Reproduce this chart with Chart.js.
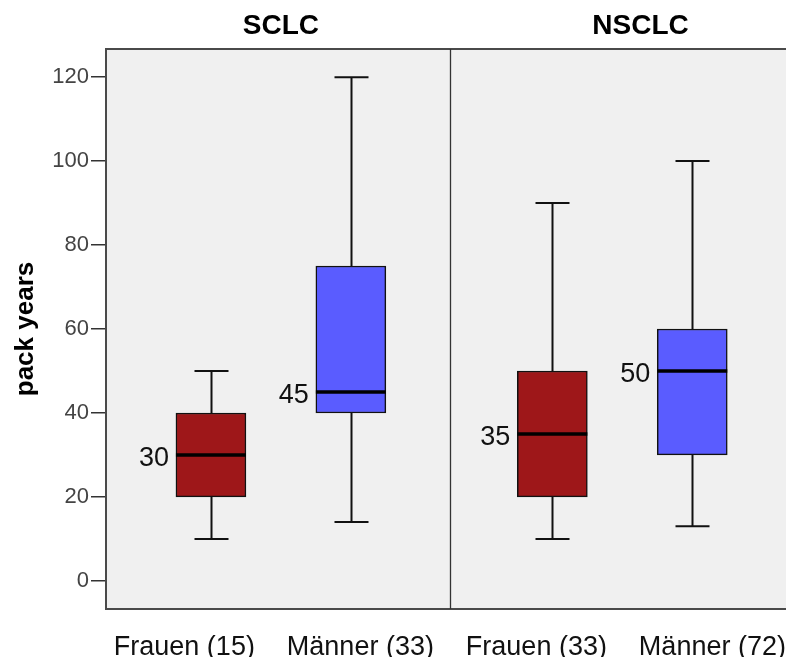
<!DOCTYPE html>
<html>
<head>
<meta charset="utf-8">
<script src="https://cdn.jsdelivr.net/npm/chart.js@4"></script>
<style>
  html, body { margin: 0; padding: 0; background: #fff; overflow: hidden; }
  #wrap { width: 786px; height: 657px; }
</style>
</head>
<body>
<div id="wrap"><canvas id="boxChart"></canvas></div>
<script>
"use strict";

// Data
const panels = ["SCLC", "NSCLC"];
const groups = ["Frauen (15)", "Männer (33)", "Frauen (33)", "Männer (72)"];
const groupPanel = [0, 0, 1, 1];
const minValues = [10, 14, 10, 13];
const q1Values = [20, 40, 20, 30];
const medianValues = [30, 45, 35, 50];
const q3Values = [40, 75, 50, 60];
const maxValues = [50, 120, 90, 100];
const yTicks = [0, 20, 40, 60, 80, 100, 120];
const boxColors = ["#9e1719", "#5a5cff", "#9e1719", "#5a5cff"];

// x layout (scale units)
const xMin = 0.25, xMax = 5.11;
const panelGap = 0.44;
const dividerX = 2.71;
const boxPositions = groups.map((g, i) => i + 1 + groupPanel[i] * panelGap);
const labelStart = 0.81, labelStep = 1.258;
const titleX = [1.5, 4.07];

const BOX_W = 70;
const CAP_W = 34;
const FONT = "'Liberation Sans', Arial, sans-serif";

// background of the plot area
let plotBackground = {
  id: "plotBackground",
  beforeDraw(chart) {
    let { ctx, chartArea: a } = chart;
    ctx.save();
    ctx.fillStyle = "#f0f0f0";
    ctx.fillRect(a.left, a.top, a.right - a.left, a.bottom - a.top);
    ctx.restore();
  }
};

// whiskers, medians, labels, frame, panel titles
let boxExtras = {
  id: "boxExtras",
  beforeDatasetsDraw(chart) {
    let { ctx, scales: { x, y } } = chart;
    ctx.save();
    ctx.strokeStyle = "#111";
    ctx.lineWidth = 2;
    groups.forEach((g, i) => {
      let cx = Math.round(x.getPixelForValue(boxPositions[i])) + 0.5;
      let pMin = y.getPixelForValue(minValues[i]);
      let pMax = y.getPixelForValue(maxValues[i]);
      ctx.beginPath();
      ctx.moveTo(cx, y.getPixelForValue(q3Values[i]));
      ctx.lineTo(cx, pMax);
      ctx.moveTo(cx, y.getPixelForValue(q1Values[i]));
      ctx.lineTo(cx, pMin);
      ctx.moveTo(cx - CAP_W / 2, pMax);
      ctx.lineTo(cx + CAP_W / 2, pMax);
      ctx.moveTo(cx - CAP_W / 2, pMin);
      ctx.lineTo(cx + CAP_W / 2, pMin);
      ctx.stroke();
    });
    ctx.restore();
  },
  afterDatasetsDraw(chart) {
    let { ctx, chartArea: a, scales: { x, y } } = chart;
    ctx.save();
    // medians + labels
    groups.forEach((g, i) => {
      let cx = x.getPixelForValue(boxPositions[i]);
      let py = y.getPixelForValue(medianValues[i]);
      ctx.strokeStyle = "#000";
      ctx.lineWidth = 3.5;
      ctx.beginPath();
      ctx.moveTo(cx - BOX_W / 2, py);
      ctx.lineTo(cx + BOX_W / 2, py);
      ctx.stroke();
      ctx.fillStyle = "#111";
      ctx.font = "27px " + FONT;
      ctx.textAlign = "right";
      ctx.textBaseline = "middle";
      ctx.fillText(String(medianValues[i]), cx - BOX_W / 2 - 7, py + 4);
    });
    // frame
    ctx.strokeStyle = "#4a4a4a";
    ctx.lineWidth = 2;
    ctx.beginPath();
    ctx.moveTo(a.right + 2, a.top);
    ctx.lineTo(a.left, a.top);
    ctx.lineTo(a.left, a.bottom);
    ctx.lineTo(a.right + 2, a.bottom);
    ctx.stroke();
    // panel divider
    let dx = Math.round(x.getPixelForValue(dividerX)) + 0.5;
    ctx.strokeStyle = "#333";
    ctx.lineWidth = 1.3;
    ctx.beginPath();
    ctx.moveTo(dx, a.top);
    ctx.lineTo(dx, a.bottom);
    ctx.stroke();
    // panel titles
    ctx.fillStyle = "#000";
    ctx.font = "bold 28px " + FONT;
    ctx.textAlign = "center";
    ctx.textBaseline = "middle";
    panels.forEach((p, i) => {
      ctx.fillText(p, x.getPixelForValue(titleX[i]), 26);
    });
    ctx.restore();
  }
};

let chartEl = document.querySelector("#boxChart");
let boxChart = new Chart(chartEl, {
  type: "bar",
  data: {
    datasets: [{
      data: groups.map((g, i) => ({ x: boxPositions[i], y: [q1Values[i], q3Values[i]] })),
      backgroundColor: boxColors,
      borderColor: "#111",
      borderWidth: 1.5,
      borderSkipped: false,
      barThickness: BOX_W
    }]
  },
  options: {
    responsive: true,
    maintainAspectRatio: false,
    animation: false,
    layout: { padding: { top: 49, left: 0, right: 0, bottom: 0 } },
    plugins: {
      legend: { display: false },
      tooltip: { enabled: false }
    },
    scales: {
      x: {
        type: "linear",
        offset: false,
        min: xMin,
        max: xMax,
        grid: { display: false, offset: false },
        border: { display: false },
        afterBuildTicks: scale => {
          scale.ticks = groups.map((g, i) => ({ value: labelStart + i * labelStep }));
        },
        afterFit: scale => {
          scale.height = 48;
          scale.paddingLeft = 0;
          scale.paddingRight = 0;
        },
        ticks: {
          autoSkip: false,
          maxRotation: 0,
          padding: 14,
          color: "#111",
          font: { family: FONT, size: 27 },
          callback: (v, i) => groups[i]
        }
      },
      y: {
        min: -6.7,
        max: 126.7,
        afterBuildTicks: scale => {
          scale.ticks = yTicks.map(v => ({ value: v }));
        },
        afterFit: scale => {
          scale.width = 106;
        },
        grid: {
          drawOnChartArea: false,
          drawTicks: true,
          tickLength: 15,
          color: "#333",
          lineWidth: 1.5
        },
        border: { display: true, color: "#777", width: 2 },
        ticks: {
          padding: 2,
          color: "#444",
          font: { family: FONT, size: 22 }
        },
        title: {
          display: true,
          text: "pack years",
          color: "#000",
          font: { family: FONT, size: 26, weight: "bold" },
          padding: { top: 10, bottom: 0 }
        }
      }
    }
  },
  plugins: [plotBackground, boxExtras]
});
</script>
</body>
</html>
